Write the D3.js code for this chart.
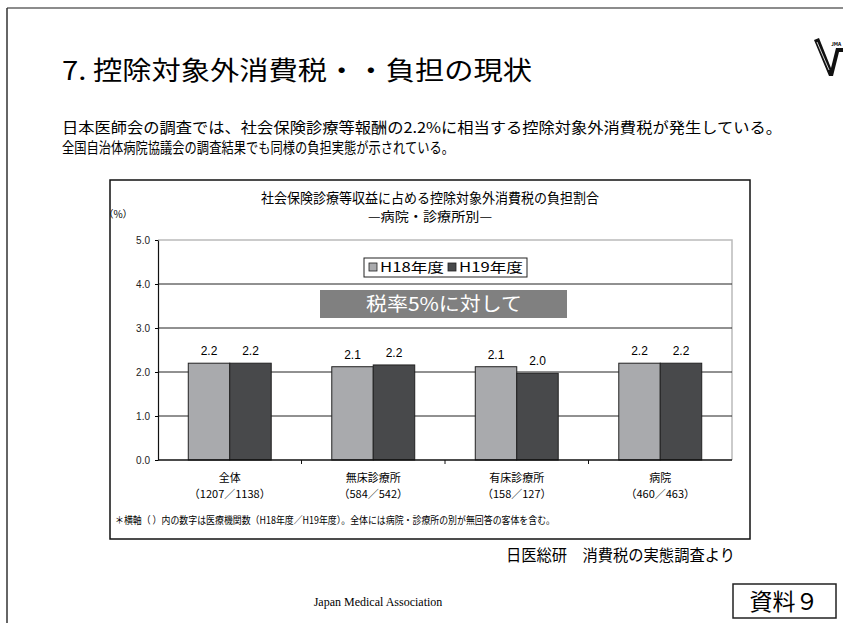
<!DOCTYPE html>
<html>
<head>
<meta charset="utf-8" />
<title>控除対象外消費税</title>
<script src="https://cdn.jsdelivr.net/npm/d3@7"></script>
<style>
  html, body { margin: 0; padding: 0; background: #fff; }
  svg { display: block; font-family: "Noto Sans CJK JP", "Noto Sans", sans-serif; }
</style>
</head>
<body>
<svg id="slide" width="843" height="623"></svg>
<script>
  // chart data
  const categories = ['全体', '無床診療所', '有床診療所', '病院']
  const counts = ['（1207／1138）', '（584／542）', '（158／127）', '（460／463）']
  const series = ['H18年度', 'H19年度']
  const h18 = [2.2, 2.12, 2.12, 2.2]
  const h19 = [2.2, 2.16, 1.97, 2.2]
  const yTicks = [0, 1, 2, 3, 4, 5]

  const colors = { 'H18年度': '#a9aaad', 'H19年度': '#48494b' }

  const svg = d3.select('#slide')

  // slide frame
  svg.append('line').attr('x1', 7).attr('y1', 8).attr('x2', 843).attr('y2', 8)
    .attr('stroke', '#666').attr('stroke-width', 1.5)
  svg.append('line').attr('x1', 7).attr('y1', 8).attr('x2', 7).attr('y2', 623)
    .attr('stroke', '#333').attr('stroke-width', 1.5)

  // heading
  svg.append('text').attr('x', 62).attr('y', 80)
    .attr('font-size', 26).attr('textLength', 470).attr('lengthAdjust', 'spacingAndGlyphs')
    .text('7. 控除対象外消費税・・負担の現状')

  // logo (rough)
  const logo = svg.append('g')
  logo.append('path')
    .attr('d', 'M814,40 L819,38 L831,68 L836,48 L843,48 L843,52 L839,52 L833,76 L829,76 Z')
    .attr('fill', '#111')
  logo.append('line').attr('x1', 817).attr('y1', 42).attr('x2', 829).attr('y2', 70)
    .attr('stroke', '#fff').attr('stroke-width', 0.8)
  logo.append('text').attr('x', 831).attr('y', 46).attr('font-size', 5).attr('font-weight', 'bold').text('JMA')

  // intro text
  svg.append('text').attr('x', 62).attr('y', 133).attr('font-size', 15)
    .attr('textLength', 720).attr('lengthAdjust', 'spacingAndGlyphs')
    .text('日本医師会の調査では、社会保険診療等報酬の2.2%に相当する控除対象外消費税が発生している。')
  svg.append('text').attr('x', 62).attr('y', 153).attr('font-size', 15)
    .attr('textLength', 392).attr('lengthAdjust', 'spacingAndGlyphs')
    .text('全国自治体病院協議会の調査結果でも同様の負担実態が示されている。')

  // chart box
  svg.append('rect').attr('x', 110).attr('y', 180).attr('width', 640).attr('height', 359)
    .attr('fill', '#fff').attr('stroke', '#111').attr('stroke-width', 1.5)

  svg.append('text').attr('x', 430).attr('y', 203).attr('font-size', 14).attr('text-anchor', 'middle')
    .attr('textLength', 338).attr('lengthAdjust', 'spacingAndGlyphs')
    .text('社会保険診療等収益に占める控除対象外消費税の負担割合')
  svg.append('text').attr('x', 430).attr('y', 221).attr('font-size', 13).attr('text-anchor', 'middle')
    .attr('textLength', 124).attr('lengthAdjust', 'spacingAndGlyphs')
    .text('—病院・診療所別—')
  svg.append('text').attr('x', 118).attr('y', 218).attr('font-size', 10).attr('text-anchor', 'middle')
    .text('（%）')

  // scales
  const x0 = d3.scaleBand().domain(categories).range([158, 732])
  const x1 = d3.scaleBand().domain(series).range([0, x0.bandwidth()]).paddingOuter(0.73)
  const y = d3.scaleLinear().domain([0, 5]).range([460, 240])

  // plot border (light)
  svg.append('path')
    .attr('d', `M158,${y(5)} H732 V${y(0)}`)
    .attr('fill', 'none').attr('stroke', '#bbb').attr('stroke-width', 1.5)

  // gridlines
  svg.append('g').selectAll('line').data(yTicks.filter(d => d > 0 && d < 5)).join('line')
    .attr('x1', 158).attr('x2', 732)
    .attr('y1', d => y(d)).attr('y2', d => y(d))
    .attr('stroke', '#222').attr('stroke-width', 1)

  // y axis
  const yAxis = svg.append('g').attr('transform', 'translate(158,0)')
    .call(d3.axisLeft(y).tickValues(yTicks).tickFormat(d3.format('.1f')).tickSize(3).tickSizeOuter(0))
  yAxis.select('.domain').attr('stroke', '#111').attr('stroke-width', 1.2)
  yAxis.selectAll('.tick text').attr('font-size', 10).attr('fill', '#222').attr('x', -8)
    .attr('font-family', 'Liberation Sans, Arial, sans-serif')

  // bars
  const rows = categories.map((c, i) => ({ cat: c, vals: [
    { key: 'H18年度', v: h18[i] }, { key: 'H19年度', v: h19[i] }] }))

  const groups = svg.append('g').selectAll('g').data(rows).join('g')
    .attr('transform', d => `translate(${x0(d.cat)},0)`)

  groups.selectAll('rect').data(d => d.vals).join('rect')
    .attr('x', d => x1(d.key))
    .attr('y', d => y(d.v))
    .attr('width', x1.bandwidth())
    .attr('height', d => y(0) - y(d.v))
    .attr('fill', d => colors[d.key])
    .attr('stroke', '#222').attr('stroke-width', 1)

  groups.selectAll('text').data(d => d.vals).join('text')
    .attr('x', d => x1(d.key) + x1.bandwidth() / 2)
    .attr('y', d => y(d.v) - 8)
    .attr('text-anchor', 'middle').attr('font-size', 12)
    .attr('font-family', 'Liberation Sans, Arial, sans-serif')
    .text(d => d.v.toFixed(1))

  // x axis
  const xAxis = svg.append('g').attr('transform', `translate(0,${y(0)})`)
  xAxis.append('line').attr('x1', 158).attr('x2', 732).attr('stroke', '#111').attr('stroke-width', 1.5)
  xAxis.selectAll('.tk').data(categories.slice(1)).join('line').attr('class', 'tk')
    .attr('x1', d => x0(d)).attr('x2', d => x0(d)).attr('y1', 0).attr('y2', 4)
    .attr('stroke', '#111')
  xAxis.selectAll('.cat').data(categories).join('text').attr('class', 'cat')
    .attr('x', d => x0(d) + x0.bandwidth() / 2).attr('y', 22)
    .attr('text-anchor', 'middle').attr('font-size', 11).text(d => d)
  xAxis.selectAll('.cnt').data(counts).join('text').attr('class', 'cnt')
    .attr('x', (d, i) => x0(categories[i]) + x0.bandwidth() / 2).attr('y', 38)
    .attr('text-anchor', 'middle').attr('font-size', 11).text(d => d)

  // legend
  const legend = svg.append('g')
  legend.append('rect').attr('x', 364).attr('y', 258).attr('width', 163).attr('height', 19)
    .attr('fill', '#fff').attr('stroke', '#222').attr('stroke-width', 1)
  series.forEach((s, i) => {
    const lx = 369 + i * 79
    legend.append('rect').attr('x', lx).attr('y', 263).attr('width', 8).attr('height', 8)
      .attr('fill', colors[s]).attr('stroke', '#222').attr('stroke-width', 0.8)
    legend.append('text').attr('x', lx + 11).attr('y', 272).attr('font-size', 13)
      .attr('textLength', 64).attr('lengthAdjust', 'spacingAndGlyphs').text(s)
  })

  // banner
  svg.append('rect').attr('x', 320).attr('y', 290).attr('width', 247).attr('height', 28).attr('fill', '#808080')
  svg.append('text').attr('x', 444).attr('y', 311).attr('text-anchor', 'middle').attr('font-size', 19)
    .attr('fill', '#fff').attr('textLength', 156).attr('lengthAdjust', 'spacingAndGlyphs').text('税率5%に対して')

  // footnote
  svg.append('text').attr('x', 115).attr('y', 524).attr('font-size', 10)
    .attr('textLength', 440).attr('lengthAdjust', 'spacingAndGlyphs')
    .text('＊横軸（ ）内の数字は医療機関数（H18年度／H19年度）。全体には病院・診療所の別が無回答の客体を含む。')

  // source
  svg.append('text').attr('x', 506).attr('y', 561).attr('font-size', 16)
    .attr('textLength', 229).attr('lengthAdjust', 'spacingAndGlyphs')
    .text('日医総研　消費税の実態調査より')

  svg.append('text').attr('x', 378).attr('y', 606).attr('text-anchor', 'middle').attr('font-size', 12)
    .attr('font-family', 'Liberation Serif, Times New Roman, serif')
    .text('Japan Medical Association')

  svg.append('rect').attr('x', 733).attr('y', 584).attr('width', 103).attr('height', 34)
    .attr('fill', '#fff').attr('stroke', '#222').attr('stroke-width', 1.5)
  svg.append('text').attr('x', 784).attr('y', 610).attr('text-anchor', 'middle').attr('font-size', 23)
    .text('資料９')
</script>
</body>
</html>
